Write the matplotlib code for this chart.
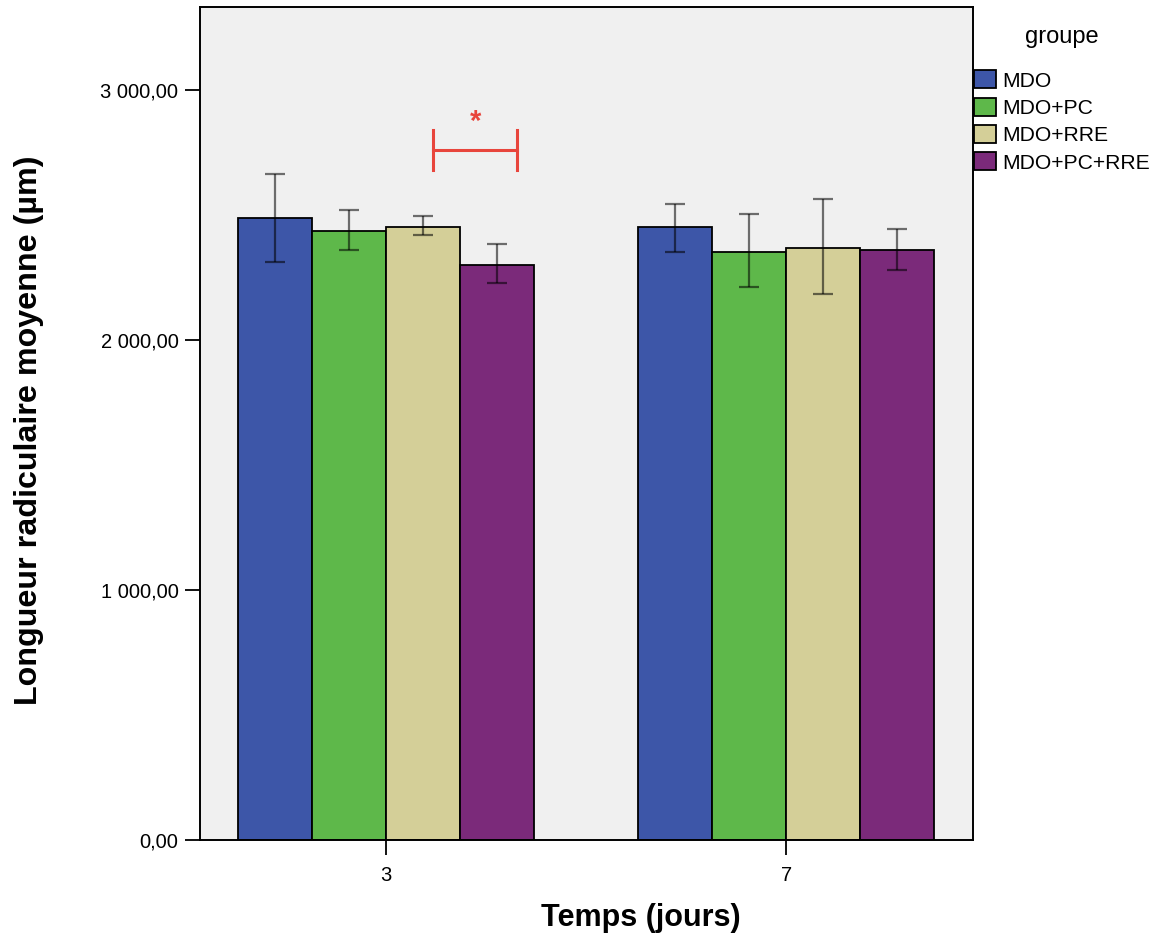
import matplotlib
matplotlib.use("Agg")
import matplotlib.pyplot as plt
import numpy as np
from matplotlib.ticker import FuncFormatter

plt.rcParams['font.family'] = ['Liberation Sans', 'DejaVu Sans']

days = ["3", "7"]
groups = ["MDO", "MDO+PC", "MDO+RRE", "MDO+PC+RRE"]
colors = ["#3D56A8", "#5EB84A", "#D4CF98", "#7B2A7A"]
means = {
    "MDO":        [2489, 2455],
    "MDO+PC":     [2439, 2355],
    "MDO+RRE":    [2454, 2371],
    "MDO+PC+RRE": [2303, 2362],
}
err_low = {
    "MDO":        [2314, 2355],
    "MDO+PC":     [2363, 2213],
    "MDO+RRE":    [2422, 2187],
    "MDO+PC+RRE": [2229, 2282],
}
err_high = {
    "MDO":        [2665, 2546],
    "MDO+PC":     [2521, 2505],
    "MDO+RRE":    [2497, 2564],
    "MDO+PC+RRE": [2387, 2446],
}
y_ticks = [0, 1000, 2000, 3000]

fig = plt.figure(figsize=(11.65, 9.38), dpi=100)
ax = fig.add_axes([200/1165, 1-840/938, 773/1165, (840-7)/938])
ax.set_facecolor("#F0F0F0")

x = np.arange(len(days))
w = 0.185
for i, g in enumerate(groups):
    xs = x + (i - 1.5) * w
    m = np.array(means[g])
    lo = m - np.array(err_low[g])
    hi = np.array(err_high[g]) - m
    ax.bar(xs, m, width=w, color=colors[i], edgecolor="black", linewidth=1.3,
           label=g, zorder=2)
    ax.errorbar(xs, m, yerr=[lo, hi], fmt='none', ecolor=(0, 0, 0, 0.55),
                elinewidth=1.6, capsize=7, capthick=1.6, zorder=3)

# significance bracket
red = "#E8453C"
bx0, bx1, by = 0.1175, 0.3275, 2760
ax.plot([bx0, bx1], [by, by], color=red, lw=2.2, zorder=4)
ax.plot([bx0, bx0], [2682, 2840], color=red, lw=2.2, zorder=4)
ax.plot([bx1, bx1], [2682, 2840], color=red, lw=2.2, zorder=4)
ax.text((bx0 + bx1) / 2, 2875, "*", color=red, ha="center", va="center",
        fontsize=21, fontweight="bold", zorder=4)

ax.set_xlim(-0.465, 1.467)
ax.set_ylim(0, 3334)
ax.set_xticks(x)
ax.set_xticklabels(days)
ax.set_yticks(y_ticks)

def fmt(v, pos):
    s = f"{v:,.2f}".replace(",", " ").replace(".", ",")
    return s
ax.yaxis.set_major_formatter(FuncFormatter(fmt))

for sp in ax.spines.values():
    sp.set_linewidth(1.4)
    sp.set_color("black")
ax.tick_params(axis='y', length=10.5, width=1.3, labelsize=14.5, pad=5)
ax.tick_params(axis='x', length=10.5, width=1.3, labelsize=14.5, pad=8)

ax.set_xlabel("Temps (jours)", fontsize=22, fontweight="bold")
ax.set_ylabel("Longueur radiculaire moyenne (µm)", fontsize=23.2,
              fontweight="bold")
ax.xaxis.set_label_coords((641-200)/773, (840-903)/833)
ax.yaxis.set_label_coords((44-200)/773, (840-430)/833)

leg = fig.legend(loc="upper left", bbox_to_anchor=(974/1165, 1-26/938),
                 frameon=False, fontsize=15.2, title="groupe",
                 title_fontsize=17, handlelength=1.05, handleheight=0.95,
                 handletextpad=0.3, labelspacing=0.33, borderpad=0,
                 borderaxespad=0)
leg._legend_box.sep = 16

fig.savefig("out.png", dpi=100)
